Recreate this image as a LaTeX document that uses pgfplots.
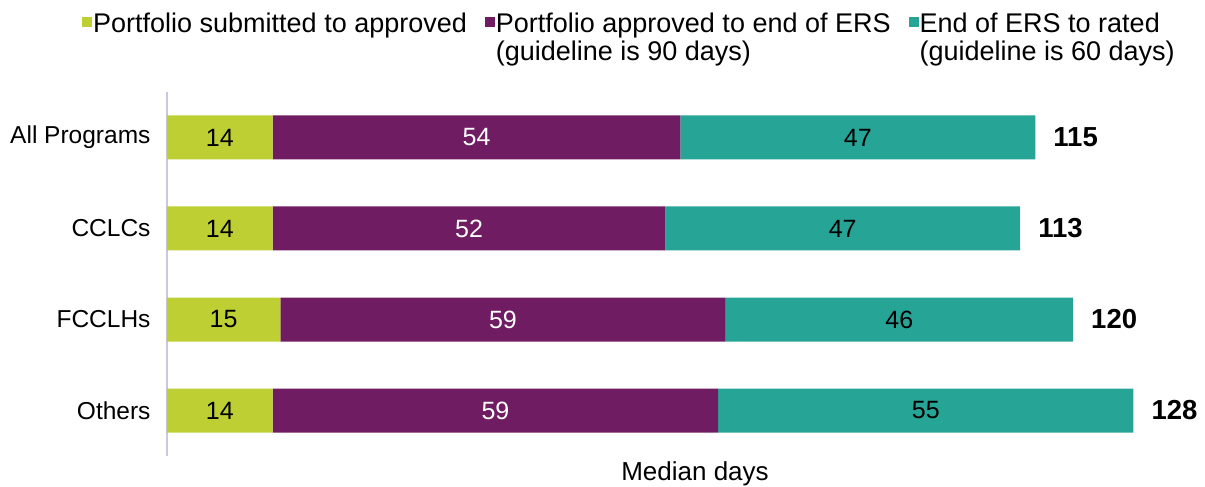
\documentclass[border=0pt]{standalone}
\usepackage{pgfplots}
\pgfplotsset{compat=1.18}
\usepackage{pgfplotstable}
\usepackage{fontspec}
\setmainfont{Liberation Sans}
\definecolor{cLime}{HTML}{BDCF32}
\definecolor{cPurple}{HTML}{701C63}
\definecolor{cTeal}{HTML}{26A596}
\definecolor{cAxis}{HTML}{C8C8DE}
\pgfplotstableread{
cat a b c tot
0 14 54 47 115
1 14 52 47 113
2 15 59 46 120
3 14 59 55 128
}\data
\pgfplotsset{
  geom/.style={at={(167pt,31pt)}, anchor=south west,
    x=7.55pt, y=91pt, xmin=0, xmax=130, ymin=-0.5, ymax=3.5, y dir=reverse, clip=false},
  lbl/.style={draw=none, mark=none, only marks, point meta=explicit symbolic, nodes near coords,
    nodes near coords style={anchor=center, inner sep=0pt, text=#1, font=\fontsize{25}{28}\selectfont}},
}
\begin{document}
\begin{tikzpicture}
\path[use as bounding box] (0pt,0pt) rectangle (1205pt,487pt);
\begin{axis}[
  geom,
  xbar stacked, bar width=44pt,
  axis lines*=left,
  x axis line style={draw=none},
  y axis line style={draw=cAxis, line width=2.5pt, -},
  xtick=\empty,
  ytick={0,1,2,3},
  yticklabels={All Programs, CCLCs, FCCLHs, Others},
  ytick style={draw=none},
  yticklabel style={font=\fontsize{24.5}{28}\selectfont, xshift=-13pt},
  legend image code/.code={\fill[#1] (0pt,-4pt) rectangle (10pt,6pt);},
  legend columns=3,
  legend cell align=left,
  legend style={at={(axis description cs:0,1)}, anchor=north west,
    xshift=-85pt, yshift=80.4pt, draw=none, fill=none, inner sep=0pt,
    font=\fontsize{27}{27}\selectfont,
    nodes={inner sep=1pt},
    /tikz/every even column/.append style={column sep=17pt}},
]
\addplot[fill=cLime, draw=none] table[x=a, y=cat] {\data};
\addlegendentry{Portfolio submitted to approved}
\addplot[fill=cPurple, draw=none] table[x=b, y=cat] {\data};
\addlegendentry{\begin{tabular}[t]{@{}l@{}}Portfolio approved to end of ERS\\(guideline is 90 days)\end{tabular}}
\addplot[fill=cTeal, draw=none] table[x=c, y=cat] {\data};
\addlegendentry{\begin{tabular}[t]{@{}l@{}}End of ERS to rated\\(guideline is 60 days)\end{tabular}}
\end{axis}
\begin{axis}[geom, hide axis]
\addplot[lbl=black] table[x expr=\thisrow{a}/2, y=cat, meta=a] {\data};
\addplot[lbl=white] table[x expr=\thisrow{a}+\thisrow{b}/2, y=cat, meta=b] {\data};
\addplot[lbl=black] table[x expr=\thisrow{a}+\thisrow{b}+\thisrow{c}/2, y=cat, meta=c] {\data};
\addplot[draw=none, mark=none, only marks, point meta=explicit symbolic,
  nodes near coords={\textbf{\pgfplotspointmeta}},
  nodes near coords style={anchor=west, inner sep=0pt, xshift=18pt, text=black, font=\fontsize{27.5}{30}\selectfont}]
  table[x=tot, y=cat, meta=tot] {\data};
\end{axis}
\node[anchor=base, font=\fontsize{26}{30}\selectfont] at (695pt,6pt) {Median days};
\end{tikzpicture}
\end{document}
